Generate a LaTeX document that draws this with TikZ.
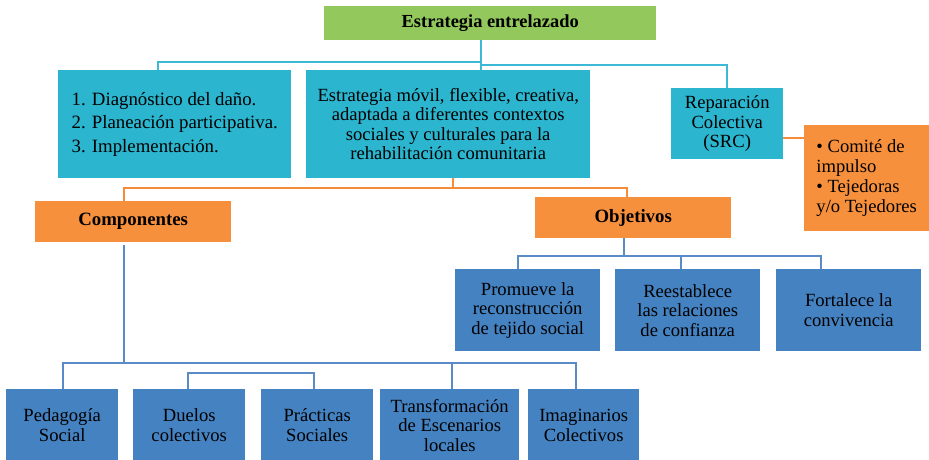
\documentclass[tikz,border=0pt]{standalone}
\usepackage{fontspec}
\setmainfont{Liberation Serif}
\definecolor{titlegreen}{HTML}{92C85C}
\definecolor{boxcyan}{HTML}{2BB5CF}
\definecolor{boxorange}{HTML}{F7903D}
\definecolor{boxblue}{HTML}{4582C1}
\definecolor{linecyan}{HTML}{3CBAD5}
\definecolor{lineorange}{HTML}{F58C3A}
\definecolor{lineblue}{HTML}{5A8BC6}
\tikzset{
	box/.style={inner sep=0pt, align=center, anchor=north west, text=black, font=\fontsize{18.6}{19.5}\selectfont},
	greenbox/.style={box, fill=titlegreen, font=\fontsize{18.4}{20}\selectfont\bfseries},
	cyanbox/.style={box, fill=boxcyan},
	orangebox/.style={box, fill=boxorange},
	headbox/.style={orangebox, font=\fontsize{18.8}{20}\selectfont\bfseries},
	bluebox/.style={box, fill=boxblue},
	cyanline/.style={line width=2.5pt, color=linecyan},
	orangeline/.style={line width=2.5pt, color=lineorange},
	blueline/.style={line width=2.5pt, color=lineblue},
}

\begin{document}
\begin{tikzpicture}[x=1pt, y=-1pt]
			%%%%% START %%%%%
			\useasboundingbox (0,0) rectangle (929,460);
			
			\node[greenbox, minimum width=332pt, minimum height=34pt] (title) at (324,6) {Estrategia entrelazado};
			
			\node[cyanbox, minimum width=233pt, minimum height=108pt, font=\fontsize{18.8}{23.5}\selectfont, align=left] (plan) at (58,70) {1. Diagnóstico del daño.\\2. Planeación participativa.\\3. Implementación.};
			\node[cyanbox, minimum width=284pt, minimum height=108pt] (concept) at (306,70) {Estrategia móvil, flexible, creativa,\\adaptada a diferentes contextos\\sociales y culturales para la\\rehabilitación comunitaria};
			\node[cyanbox, minimum width=112pt, minimum height=71pt] (repar) at (671,88) {Reparación\\Colectiva\\(SRC)};
			\node[orangebox, minimum width=125pt, minimum height=106pt, align=left, font=\fontsize{18.6}{20}\selectfont] (actors) at (804,125) {• Comité de\\impulso\\• Tejedoras\\y/o Tejedores};
			
			\node[headbox, minimum width=196pt, minimum height=41pt] (comp) at (35,201) {Componentes};
			\node[headbox, minimum width=196pt, minimum height=41pt] (obj) at (535,197) {Objetivos};
			
			\node[bluebox, minimum width=145pt, minimum height=82pt] (promueve) at (455,269) {Promueve la\\reconstrucción\\de tejido social};
			\node[bluebox, minimum width=145pt, minimum height=82pt] (reestablece) at (615,269) {Reestablece\\las relaciones\\de confianza};
			\node[bluebox, minimum width=145pt, minimum height=82pt] (fortalece) at (776,269) {Fortalece la\\convivencia};
			
			\node[bluebox, minimum width=112pt, minimum height=72pt] (pedagogia) at (6,389) {Pedagogía\\Social};
			\node[bluebox, minimum width=112pt, minimum height=72pt] (duelos) at (133,389) {Duelos\\colectivos};
			\node[bluebox, minimum width=112pt, minimum height=72pt] (practicas) at (261,389) {Prácticas\\Sociales};
			\node[bluebox, minimum width=139pt, minimum height=72pt] (transform) at (380,389) {Transformación\\de Escenarios\\locales};
			\node[bluebox, minimum width=111pt, minimum height=72pt] (imaginarios) at (528,389) {Imaginarios\\Colectivos};
			
			% cyan links
			\coordinate (tbus) at (481,62);
			\coordinate (planj) at (158,62);
			\coordinate (reparj) at (727,65);
			\draw[cyanline] (title.south -| tbus) -- (concept.north -| tbus);
			\draw[cyanline] (tbus) -- (planj) -- (planj |- plan.north);
			\draw[cyanline] (tbus |- reparj) -- (reparj) -- (reparj |- repar.north);
			
			% orange links
			\coordinate (obus) at (453,188);
			\coordinate (compj) at (124,188);
			\coordinate (objj) at (627,188);
			\coordinate (actj) at (783,138);
			\draw[orangeline] (obus |- concept.south) -- (obus);
			\draw[orangeline] (compj |- comp.north) -- (compj) -- (objj) -- (objj |- obj.north);
			\draw[orangeline] (repar.east |- actj) -- (actors.west |- actj);
			
			% blue links
			\coordinate (objbus) at (624,256);
			\coordinate (promj) at (518,256);
			\coordinate (reestj) at (681,256);
			\coordinate (fortj) at (821,256);
			\draw[blueline] (objbus |- obj.south) -- (objbus);
			\draw[blueline] (promj |- promueve.north) -- (promj) -- (fortj) -- (fortj |- fortalece.north);
			\draw[blueline] (reestj) -- (reestj |- reestablece.north);
			
			\coordinate (cbus) at (124,363);
			\coordinate (pedj) at (63,363);
			\coordinate (transj) at (452,363);
			\coordinate (imagj) at (576,363);
			\draw[blueline] ([yshift=-3pt]cbus |- comp.south) -- (cbus);
			\draw[blueline] (pedj |- pedagogia.north) -- (pedj) -- (imagj) -- (imagj |- imaginarios.north);
			\draw[blueline] (transj) -- (transj |- transform.north);
			
			\coordinate (duej) at (188,373);
			\coordinate (pracj) at (314,373);
			\draw[blueline] (duej |- duelos.north) -- (duej) -- (pracj) -- (pracj |- practicas.north);
			%%%%% END %%%%%
\end{tikzpicture}
\end{document}
